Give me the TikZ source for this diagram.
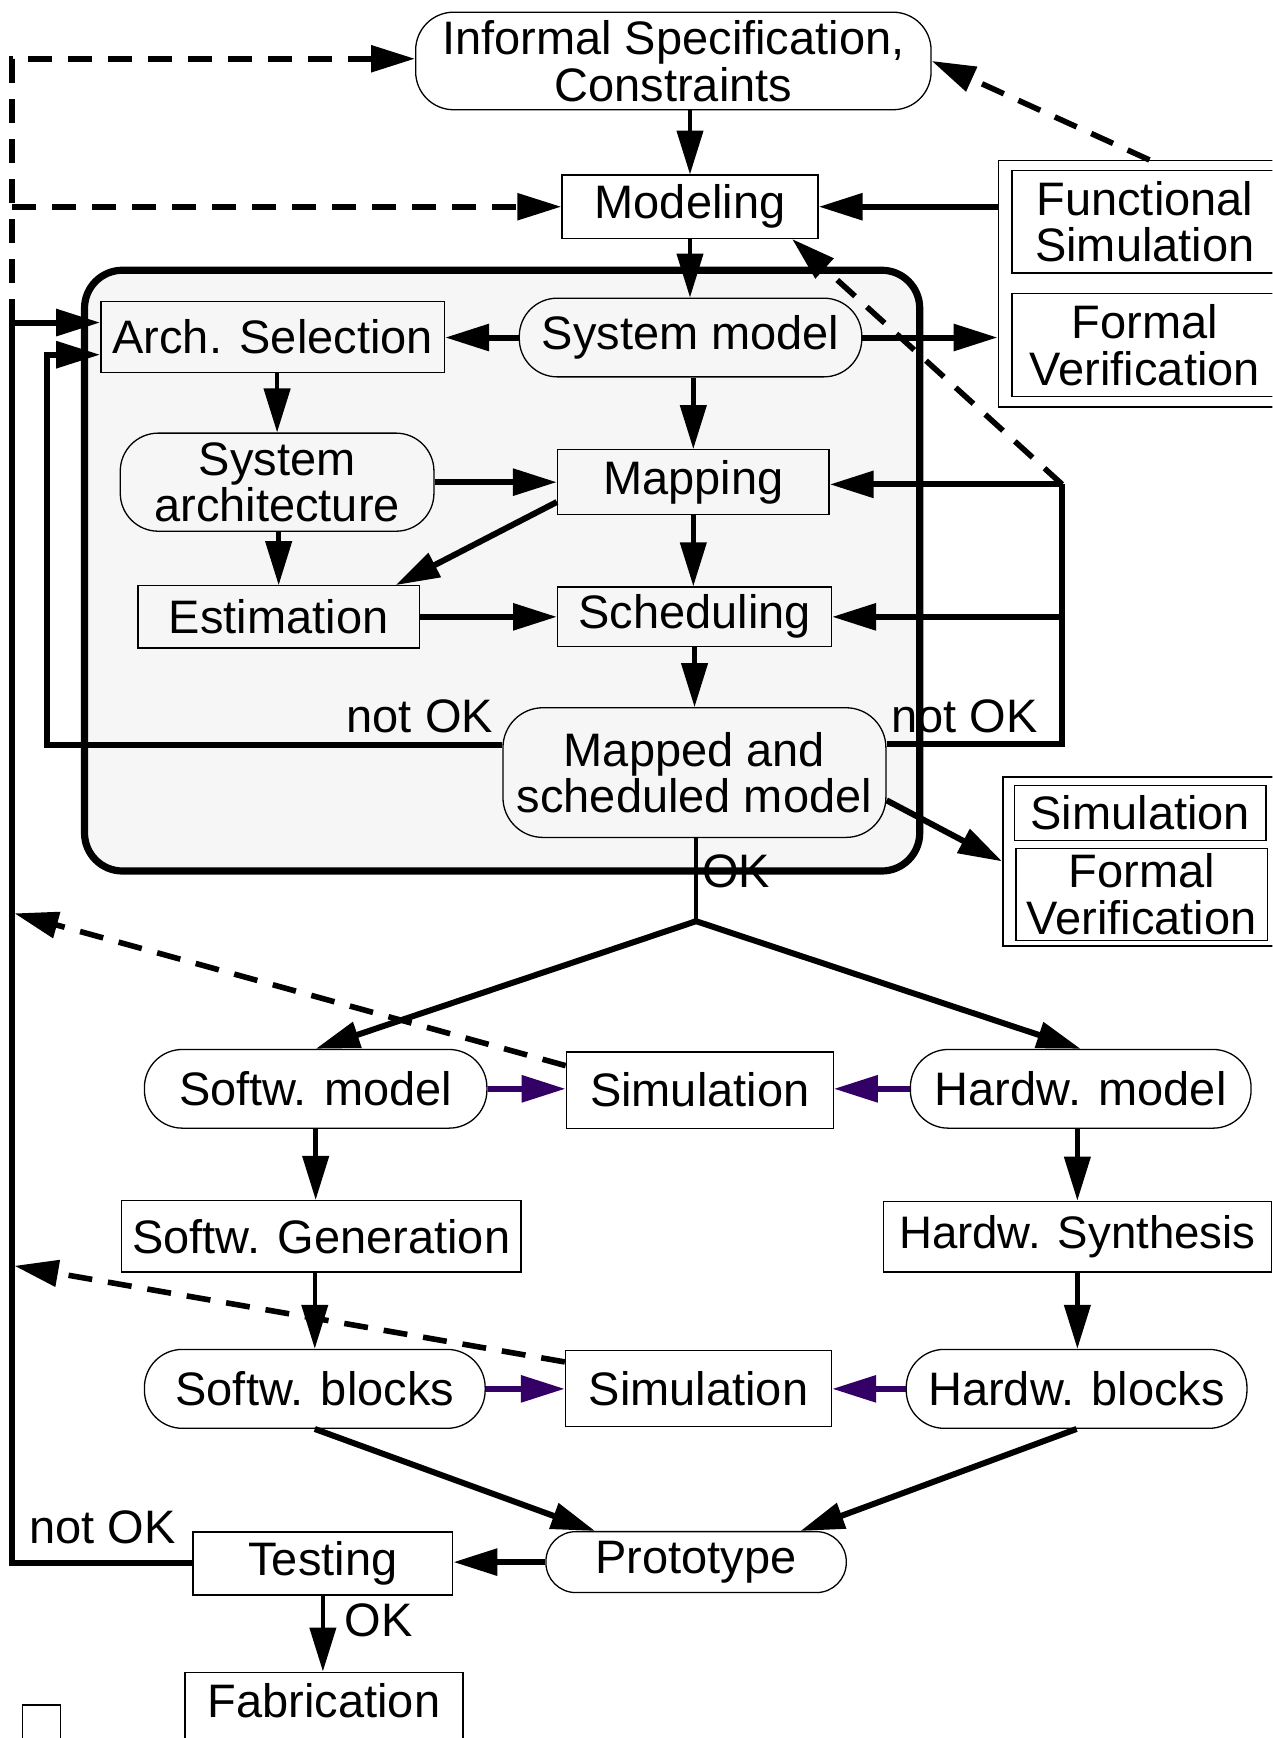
\documentclass[tikz,border=0pt]{standalone}
\usepackage{fontspec}
\setmainfont{Liberation Sans}
\usetikzlibrary{arrows.meta,calc}
\newdimen\pxu \pxu=0.5544pt
\definecolor{purp}{RGB}{51,0,102}
\definecolor{bggray}{RGB}{246,246,246}
\begin{document}
\begin{tikzpicture}[x=0.5544pt, y=-0.5544pt,
  lbl/.style={font=\fontsize{23.5pt}{23.3pt}\selectfont, inner sep=0pt},
  txt/.style={lbl, align=center},
  box/.style={txt, draw, line width=0.65pt, rectangle},
  stad/.style={box, rounded corners=19pt},
  tiphead/.style={-{Triangle[length=22pt,width=13pt]}},
  thinarr/.style={tiphead, line width=2.2pt},
  thickarr/.style={tiphead, line width=3pt},
  thickline/.style={line width=3pt},
  dashline/.style={line width=2.8pt, dash pattern=on 12pt off 8pt},
  dasharr/.style={tiphead, dashline},
  purparr/.style={tiphead, line width=3pt, draw=purp, fill=purp}
]
\useasboundingbox (0,0) rectangle (1148,1568);
\clip (0,0) rectangle (1148,1568);

% container
\node[draw, line width=3.6pt, fill=bggray, rounded corners=19pt, inner sep=0pt,
      minimum width=753.5\pxu, minimum height=542\pxu] (frame) at (453,514.8) {};

% nodes
\node[stad, minimum width=465\pxu, minimum height=88\pxu] (inf) at (607.5,55) {Informal Specification,\\Constraints};
\node[box, minimum width=231\pxu, minimum height=57\pxu] (mod) at (622.5,186.5) {Modeling};
\node[box, minimum width=310\pxu, minimum height=64\pxu] (arch) at (246,304) {Arch. Selection};
\node[stad, minimum width=309\pxu, minimum height=71\pxu] (sysm) at (623,304.5) {System model};
\node[stad, minimum width=283\pxu, minimum height=88.5\pxu] (sysa) at (250,435) {System\\architecture};
\node[box, minimum width=245\pxu, minimum height=58.6\pxu] (map) at (625.5,435) {Mapping};
\node[box, minimum width=254\pxu, minimum height=56\pxu] (est) at (251.4,556.5) {Estimation};
\node[box, minimum width=247\pxu, minimum height=54\pxu] (sch) at (626.6,556.5) {Scheduling};
\node[stad, rounded corners=20pt, minimum width=345.5\pxu, minimum height=117\pxu] (mapped) at (626.5,697) {Mapped and\\scheduled model};

\node[box, anchor=north west, minimum width=280\pxu, minimum height=222.4\pxu] (g1) at (900,144.3) {};
\node[box, anchor=north west, minimum width=240\pxu, minimum height=92.3\pxu] (fs) at (912.3,153.3) {Functional\\Simulation};
\node[box, anchor=north west, minimum width=240\pxu, minimum height=92.5\pxu] (fv) at (912.3,264.5) {Formal\\Verification};

\node[box, anchor=north west, minimum width=280\pxu, minimum height=152.4\pxu] (g2) at (904.2,700.4) {};
\node[box, anchor=north west, minimum width=227\pxu, minimum height=49.6\pxu] (sim0) at (914.7,707.9) {Simulation};
\node[box, anchor=north west, minimum width=227\pxu, minimum height=82.7\pxu] (fv2) at (916,765) {Formal\\Verification};

\node[stad, minimum width=309\pxu, minimum height=71\pxu] (swm) at (284.8,982.3) {Softw. model};
\node[box, minimum width=240.7\pxu, minimum height=68.8\pxu] (sim1) at (631.3,983.4) {Simulation};
\node[stad, minimum width=307.4\pxu, minimum height=71\pxu] (hwm) at (975,982.3) {Hardw. model};
\node[box, minimum width=360\pxu, minimum height=64.6\pxu] (swg) at (289.9,1115.4) {Softw. Generation};
\node[box, font=\fontsize{22.8pt}{22.8pt}\selectfont, minimum width=350\pxu, minimum height=64\pxu] (hws) at (972,1115.7) {Hardw. Synthesis};
\node[stad, minimum width=307.4\pxu, minimum height=71.2\pxu] (swb) at (284,1253) {Softw. blocks};
\node[box, minimum width=240\pxu, minimum height=68.6\pxu] (sim2) at (630.2,1252.6) {Simulation};
\node[stad, minimum width=307.4\pxu, minimum height=71.2\pxu] (hwb) at (971.3,1253) {Hardw. blocks};
\node[stad, rounded corners=15pt, minimum width=271\pxu, minimum height=55\pxu] (proto) at (628,1409.3) {Prototype};
\node[box, minimum width=234.2\pxu, minimum height=57\pxu] (test) at (291.3,1410.5) {Testing};
\node[box, anchor=north, minimum width=251\pxu, minimum height=80\pxu, text depth=29\pxu] (fab) at (292.3,1508) {Fabrication};
\node[draw, line width=0.65pt, inner sep=0pt, anchor=north west, minimum width=34.4\pxu, minimum height=50\pxu] (sq) at (19.6,1537.5) {};

% labels
\node[lbl, anchor=base] (nok1) at (378.8,661.2) {not OK};
\node[lbl, anchor=base] (nok2) at (870.3,661) {not OK};
\node[lbl, anchor=base] (ok1) at (664,800.3) {OK};
\node[lbl, anchor=base] (nok3) at (92.6,1392.4) {not OK};
\node[lbl, anchor=base] (ok2) at (341.4,1476.5) {OK};

% coordinates
\coordinate (lx2) at (11,291);
\coordinate (lt) at (11,53);
\coordinate (lx) at (42,320);
\coordinate (rx) at (958.3,437);
\coordinate (br) at ($(mapped.south)+(1.5,75)$);
\coordinate (d1) at (13,824);
\coordinate (d2) at (13,1142);

% top part
\draw[thinarr] (mod.north |- inf.south) -- (mod.north);
\draw[thinarr] (mod.south) -- (mod.south |- sysm.north);
\draw[thickarr] (g1.west |- mod.east) -- (mod.east);
\draw[dasharr] ($(g1.north west)+(137,0)$) -- (inf.east);
\draw[thickarr] (sysm.east) -- (sysm.east -| g1.west);
\draw[thickarr] (sysm.west) -- (sysm.west -| arch.east);
\draw[thinarr] (map.north |- sysm.south) -- (map.north);
\draw[thinarr] (sysa.north |- arch.south) -- (sysa.north);
\draw[thickarr] (sysa.east) -- (sysa.east -| map.west);
\draw[thinarr] (est.north |- sysa.south) -- (est.north);
\draw[thickarr] ($(map.south west)+(0,-12)$) -- ($(est.north east)+(-22,0)$);
\draw[thickarr] (est.east) -- (est.east -| sch.west);
\draw[thinarr] (map.south) -- (map.south |- sch.north);
\draw[thinarr] (sch.south) -- (sch.south |- mapped.north);

% loops
\draw[thickarr] ($(mapped.west)+(0,-25)$) -| (lx) -- (lx -| arch.west);
\draw[thickline] ($(mapped.east)+(0,-26)$) -| (rx);
\draw[thickarr] (rx) -- (rx -| map.east);
\draw[thickarr] (rx |- sch.east) -- (sch.east);
\draw[dasharr] (rx) -- ($(mod.south east)+(-24,0)$);
\draw[thickarr] ($(mapped.east)+(0,25)$) -- (g2.west);

% left feedback
\draw[thickarr] (test.west) -| (lx2) -- (lx2 -| arch.west);
\draw[dasharr] (lx2) -- (lt) -- (lt -| inf.west);
\draw[dasharr] (lx2 |- mod.west) -- (mod.west);

% branch
\draw[line width=2.2pt] (mapped.south -| br) -- (br);
\draw[thickarr] (br) -- (swm.north);
\draw[thickarr] (br) -- (hwm.north);

% lower part
\draw[purparr] (swm.east) -- (swm.east -| sim1.west);
\draw[purparr] (hwm.west) -- (hwm.west -| sim1.east);
\draw[dasharr] ($(sim1.north west)+(0,13)$) -- (d1);
\draw[thinarr] (swm.south) -- (swm.south |- swg.north);
\draw[thinarr] (hws.north |- hwm.south) -- (hws.north);
\draw[thinarr] (swb.north |- swg.south) -- (swb.north);
\draw[thinarr] (hws.south) -- (hws.south |- hwb.north);
\draw[purparr] (swb.east) -- (swb.east -| sim2.west);
\draw[purparr] (hwb.west) -- (hwb.west -| sim2.east);
\draw[dasharr] ($(sim2.north west)+(0,11)$) -- (d2);
\draw[thickarr] (swb.south) -- ($(proto.north west)+(45,0)$);
\draw[thickarr] (hwb.south) -- ($(proto.north east)+(-42,0)$);
\draw[thickarr] (proto.west) -- (proto.west -| test.east);
\draw[thinarr] (test.south) -- (test.south |- fab.north);
\end{tikzpicture}
\end{document}
